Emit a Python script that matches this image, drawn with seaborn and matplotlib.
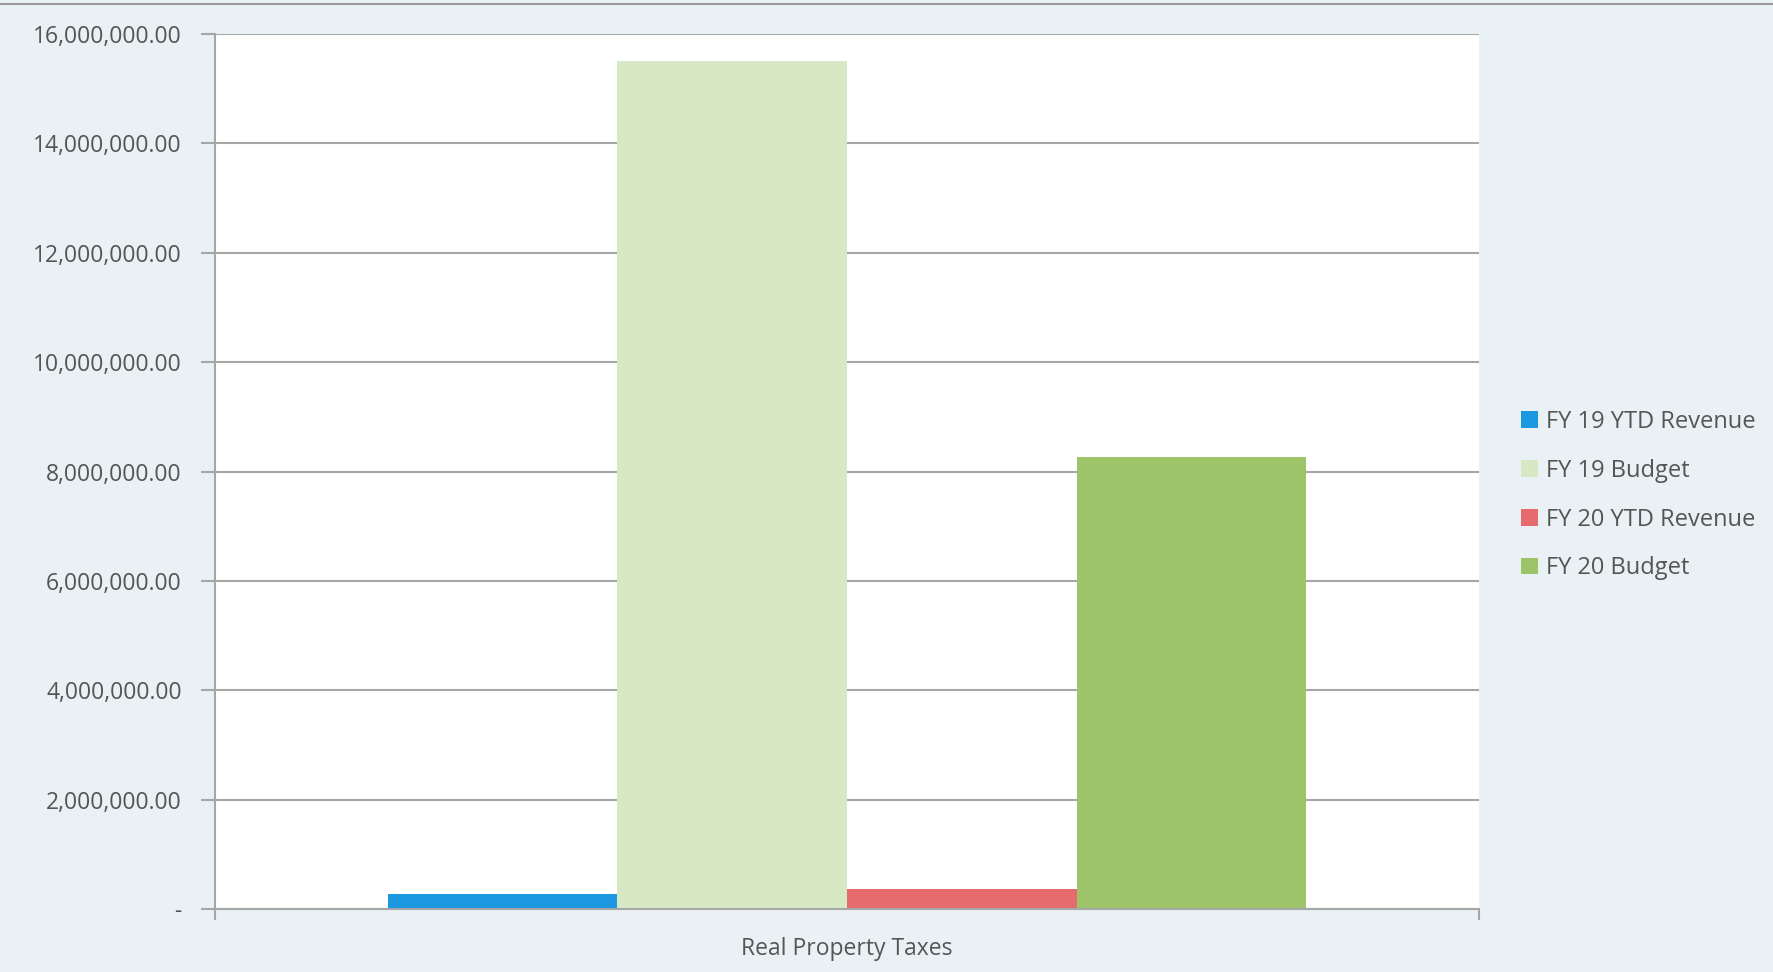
import matplotlib
matplotlib.use("Agg")
import matplotlib.pyplot as plt
from matplotlib.ticker import FuncFormatter, FixedLocator
import pandas as pd
import seaborn as sns

# data
category = ["Real Property Taxes"]
series = ["FY 19 YTD Revenue", "FY 19 Budget", "FY 20 YTD Revenue", "FY 20 Budget"]
values = [270000, 15510000, 370000, 8270000]
colours = ["#1b98e0", "#d7e8c4", "#e56b6f", "#9dc469"]

df = pd.DataFrame({"cat": category * len(series), "series": series, "value": values})

sns.set_theme(style="white")
plt.rcParams["font.family"] = ["Open Sans", "DejaVu Sans"]
txt = "#555555"
bg = "#e9f1f5"

fig = plt.figure(figsize=(17.73, 9.72), dpi=100, facecolor=bg)
ax = fig.add_axes([0.1213, 0.0648, 0.7127, 0.9002])
ax.set_facecolor("white")

sns.barplot(data=df, x="cat", y="value", hue="series", hue_order=series,
            palette=colours, width=0.727, saturation=1, linewidth=0, ax=ax, legend=True)

ax.set_ylim(0, 16000000)
ax.set_xlim(-0.5, 0.5)
ax.yaxis.set_major_locator(FixedLocator(range(0, 16000001, 2000000)))
ax.yaxis.set_major_formatter(FuncFormatter(lambda v, p: "-" if v == 0 else f"{v:,.2f}"))
ax.grid(axis="y", color="#a6a6a6", linewidth=1.5, zorder=0)
ax.set_axisbelow(True)
ax.set_xlabel("")
ax.set_ylabel("")

for s in ["top", "right"]:
    ax.spines[s].set_visible(False)
for s in ["left", "bottom"]:
    ax.spines[s].set_color("#a6a6a6")
    ax.spines[s].set_linewidth(1.5)

ax.tick_params(axis="y", left=True, length=10, width=1.5, color="#a6a6a6",
               labelsize=16.5, labelcolor=txt, pad=14)
ax.tick_params(axis="x", bottom=False, labelsize=16.5, labelcolor=txt, pad=14)
ax.set_xticks([-0.5, 0.5], minor=True)
ax.tick_params(axis="x", which="minor", bottom=True, length=8, width=1.5, color="#a6a6a6")

handles, labels = ax.get_legend_handles_labels()
leg = ax.legend(handles, labels, loc="center left", bbox_to_anchor=(1.017, 0.473),
                frameon=False, fontsize=17, labelcolor=txt, handlelength=0.7,
                handleheight=0.7, handletextpad=0.35, labelspacing=1.05)

# thin outer chart border along the top
fig.add_artist(plt.Line2D([0, 1], [0.996, 0.996], color="#9a9a9a", linewidth=1.5,
                          transform=fig.transFigure))

fig.savefig("out.png", dpi=100, facecolor=bg)
